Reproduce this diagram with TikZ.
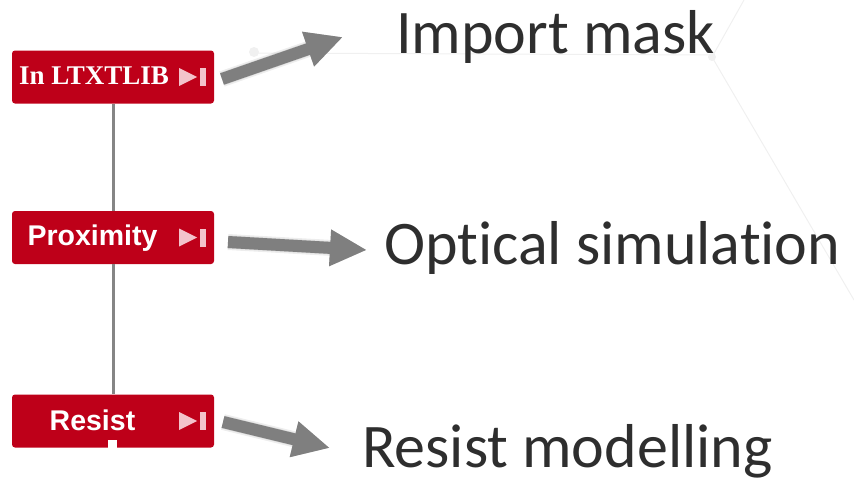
\documentclass[tikz,border=0pt]{standalone}
\usepackage{fontspec}
\setmainfont{Carlito}[Ligatures=NoCommon]
\newfontfamily\boxfont{Liberation Sans}
\newfontfamily\boxserif{Liberation Serif}
\usetikzlibrary{arrows.meta}
\definecolor{boxred}{HTML}{BE0019}
\definecolor{iconpink}{HTML}{F3C3CB}
\definecolor{arrowgray}{HTML}{7F7F7F}
\definecolor{linkgray}{HTML}{858585}
\definecolor{textgray}{HTML}{2E2E2E}
\definecolor{faint}{HTML}{F0F0F0}

\begin{document}
\begin{tikzpicture}[x=1pt,y=-1pt,
  stepbox/.style={fill=boxred, rounded corners=3pt, minimum width=202pt,
    minimum height=53pt, inner sep=0pt},
  boxtext/.style={text=white, anchor=base, inner sep=0pt,
    font=\boxfont\bfseries\fontsize{28.5}{30}\selectfont},
  desc/.style={text=textgray, anchor=base west, inner sep=0pt,
    font=\fontsize{62}{70}\selectfont},
  link/.style={draw=linkgray, line width=3pt},
  bigarrow/.style={draw=arrowgray, line width=12pt,
    -{Triangle[length=37pt,width=34pt]}},
  shade/.style={draw=black, line width=#1,
    -{Triangle[length=37pt,width=34pt]}},
  icon/.style={fill=iconpink},
  backline/.style={draw=faint, line width=1pt}]
\useasboundingbox (0,0) rectangle (854,482);

% faint background lines
\draw[backline] (254,53) -- (712,55);
\draw[backline] (712,57) -- (744,0);
\draw[backline] (712,57) -- (854,300);
\fill[faint] (712,57) circle (4);
\fill[faint] (254,52) circle (5);

% process steps
\node[stepbox] (b1) at (113,77) {};
\node[stepbox] (b2) at (113,237.5) {};
\node[stepbox] (b3) at (113,421) {};

\draw[link] (b1.south) -- (b2.north);
\draw[link] (b2.south) -- (b3.north);

% notch under the last step
\fill[white] ([xshift=-5pt]b3.south) rectangle ([xshift=4pt,yshift=8pt]b3.south);

\node[boxtext, font=\boxserif\bfseries\fontsize{27}{30}\selectfont] (t1) at (94,84) {In LTXTLIB};
\node[boxtext] (t2) at (92.5,245) {Proximity};
\node[boxtext] (t3) at (92.5,430) {Resist};

% play-to-end icons
\foreach \b in {b1,b2,b3}{
  \begin{scope}[shift={(\b.east)}]
    \fill[icon] (-35,-9) -- (-17,0) -- (-35,9) -- cycle;
    \fill[icon] (-14,-9) rectangle (-8,9);
  \end{scope}
}

% descriptions
\node[desc] (l1) at (396,53) {Import mask};
\node[desc] (l2) at (384,264) {Optical simulation};
\node[desc] (l3) at (362,467) {Resist modelling};

% arrow end points
\coordinate (a1) at (222,79);  \coordinate (h1) at (343,37);
\coordinate (a2) at (228,242); \coordinate (h2) at (367,250);
\coordinate (a3) at (223,422); \coordinate (h3) at (330,448);

% soft drop shadows
\foreach \w/\o in {16pt/0.07,13pt/0.10}{
  \begin{scope}[transparency group, opacity=\o, xshift=3pt, yshift=-4pt]
    \draw[shade=\w] (a1) -- (h1);
    \draw[shade=\w] (a2) -- (h2);
    \draw[shade=\w] (a3) -- (h3);
  \end{scope}
}

% arrows
\draw[bigarrow] (a1) -- (h1);
\draw[bigarrow] (a2) -- (h2);
\draw[bigarrow] (a3) -- (h3);
\end{tikzpicture}
\end{document}
